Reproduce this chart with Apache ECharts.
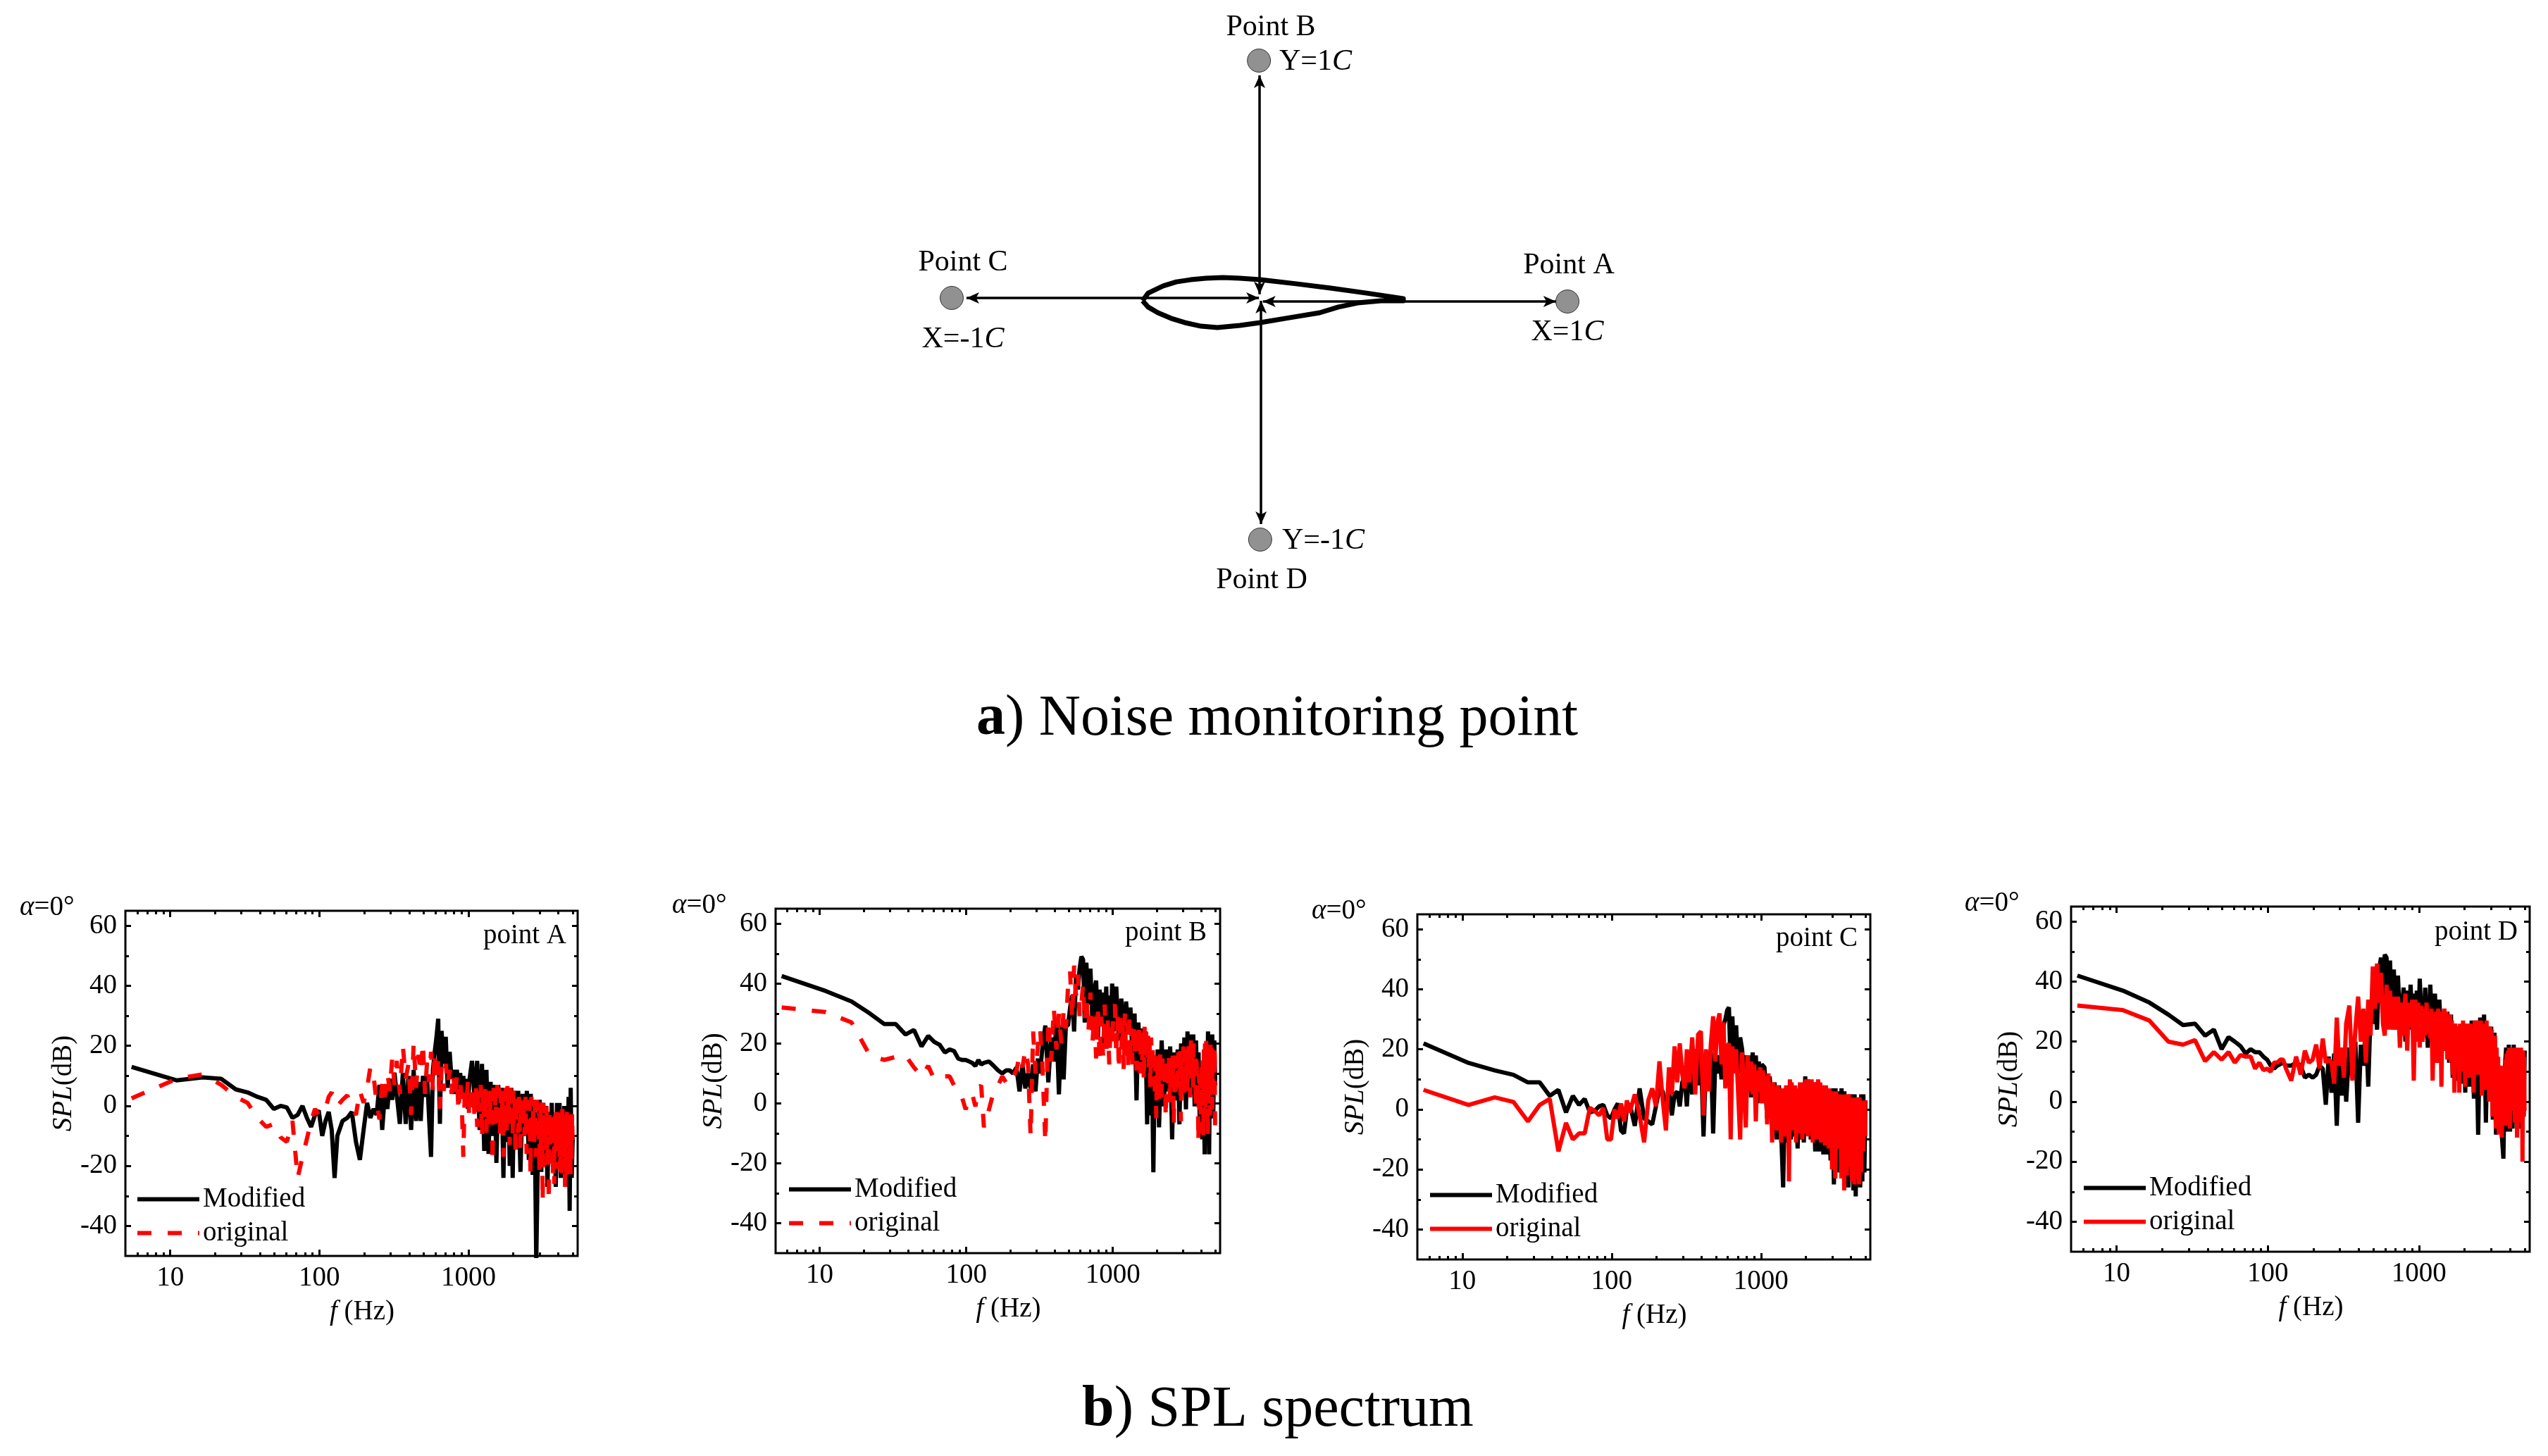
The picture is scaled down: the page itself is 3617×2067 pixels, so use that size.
<!DOCTYPE html>
<html>
<head>
<meta charset="utf-8">
<style>html,body{margin:0;padding:0;background:#fff}#c{width:3617px;height:2067px}</style>
<script src="https://cdn.jsdelivr.net/npm/echarts@6/dist/echarts.min.js"></script>
</head>
<body>
<div id="c"></div>
<script>
// ---------- frequency lists (Hz) ----------
const freq = [
5.5,11,16.5,22,27.5,33,38.5,44,49.5,55,60.5,66,71.5,77,82.5,88,93.5,99,104.5,110,115.5,121,126.5,132,
143,154,165,176,187,198,209,220,231,242,253,264,275,286,297,308,319,330,
346.5,363,379.5,396,412.5,429,445.5,462,478.5,495,511.5,528,544.5,561,577.5,594,610.5,627,643.5,660,
682,704,726,748,770,792,814,836,858,880,902,924,946,968,990,1012,
1056,1100,1144,1188,1232,1276,1320,1364,1408,1452,1496,1540,1584,1628,1672,1716,1760,1804,1848,1892,1936,1980,2024,2068,
2156,2233,2310,2387,2464,2541,2618,2695,2772,2849,2926,3003,3080,3157,3234,3311,3388,3465,3542,3619,3696,3773,3850,3927,4004,4081,4158,4235,4312,4389,4466,4543,4620,4697,4774,4851,4928,5005
];
const freqOriginal = [
5.5,11,16.5,22,27.5,33,38.5,44,49.5,55,60.5,66,71.5,77,82.5,88,93.5,99,104.5,110,115.5,121,126.5,132,
143,154,165,176,187,198,209,220,231,242,253,264,275,286,297,308,319,330,
346.5,363,379.5,396,412.5,429,445.5,462,478.5,495,511.5,528,544.5,561,577.5,594,610.5,627,643.5,660,
682,704,726,748,770,792,814,836,858,880,902,924,946,968,990,1012,
1034,1056,1078,1100,1122,1144,1166,1188,1210,1232,1254,1276,1298,1320,1342,1364,1386,1408,1430,1452,1474,1496,1518,1540,1562,1584,1606,1628,1650,1672,1694,1716,1738,1760,1782,1804,1826,1848,1870,1892,1914,1936,1958,1980,2002,2024,2046,2068,
2106.5,2145,2183.5,2222,2260.5,2299,2337.5,2376,2414.5,2453,2491.5,2530,2568.5,2607,2645.5,2684,2722.5,2761,2799.5,2838,2876.5,2915,2953.5,2992,3030.5,3069,3107.5,3146,3184.5,3223,3261.5,3300,3338.5,3377,3415.5,3454,3492.5,3531,3569.5,3608,3646.5,3685,3723.5,3762,3800.5,3839,3877.5,3916,3954.5,3993,4031.5,4070,4108.5,4147,4185.5,4224,4262.5,4301,4339.5,4378,4416.5,4455,4493.5,4532,4570.5,4609,4647.5,4686,4724.5,4763,4801.5,4840,4878.5,4917,4955.5,4994
];
// ---------- SPL values (dB) ----------
const modifiedA = [
13,8.5,9.5,9,5.5,4.5,3,2,-1,0,-0.5,-4,-3,0,-4,-7,-3,-1.5,-10,-5,-2,-8,-24,-10,
-5,-4,-2,-12,-18,-8,1,-4,-1,-3,7,-8,4,-1,9,2,11,4,
-6,11,-6,10,-8,12,-5,8,-5,10,3,10,-4,-17,12,18,23,29,-6,25,
14,23,6,18,9,12,4,12,5,11,3,10,2,9,-1,8,
15,2,15,-8,14,-15,12,-16,8,-10,7,-19,7,-8,6,-24,5,-12,6,-20,6,-24,5,-12,
5,-22,4,-10,5,-18,4,-23,2,-52,-15,2,-22,1,-19,0,-27,-2,-17,1,-22,-3,-27,1,-18,1,-24,-1,-20,0,-27,-2,-14,3,-35,6,-24,-10
];
const originalA = [
2.5,9,10.5,7,3,1,-4,-7,-6,-10.5,-12,-5,-24,-17,-11,-5,-1,-3,-3,-1,3,4.5,1,0,
2,3.5,-1,-3,5,1,6,13,10,1,-4.5,8,3,11,5,16,7,15,
4,20,9,14,-3,21,6,17,11,21,4,15,8,18,5,18,8,15,-1,13,
5,14,7,12,4,11,2,10,-2,9,1,-17,7,-1,8,-4,
7,-3,6,-5,7,-7,5,-2,7,-11,6,-4,6,-9,5,-6,6,-3,5,-19,6,-6,5,-8,7,-4,6,-10,5,-7,6,-17,5,-5,6,-9,7,-4,5,-13,6,-6,5,-10,5,-7,4,-17,
4,-9,3,-14,4,-7,3,-10,3,-16,2,-8,2,-23,3,-11,1,-12,2,-17,2,-9,1,-22,2,-14,-1,-32,1,-12,-3,-15,0,-20,-2,-32,-1,-13,-4,-12,-2,-24,-3,-26,-1,-15,-2,-21,-3,-11,-4,-18,-2,-23,-3,-25,-1,-14,-2,-15,-3,-27,-3,-24,-2,-13,-4,-14,-3,-20,-3,-23,-3,-18,-2,-12
];
const modifiedB = [
42.5,37.5,34,30,26.5,26.5,23,24.5,19,22.5,20.5,19.5,17,18,17.5,15,14.5,14.5,14,13.5,12.5,14.5,13,13.5,
14,12.5,11,10,11,11,10,12,4,13,5,10,5,13,4,15,10,18,
26,7,22,14,27,3,26,8,26,26,32,36,24,43,38,45,49,48,27,47,
33,45,27,38,41,22,38,26,37,19,39,23,36,21,40,24,
39,21,35,18,34,24,32,15,30,1,27,11,25,10,24,-7,20,-4,14,-23,16,-2,18,-8,
21,-1,18,4,19,-12,17,1,18,-7,20,4,22,-2,24,5,23,3,23,-1,21,4,17,-8,11,-12,12,-17,17,-2,24,-17,19,-5,23,-3,21,6
];
const originalB = [
32,30.5,27,16,14.5,15.5,16,12,9,12.5,8,8,9,9,6,4.5,2,-2,1,3,-1,5,6,-8,
-2,4,6,9,7,10,9,11,16,12,18,13,-11,24,10,19,25,14,
-13,28,14,32,18,30,20,31,25,39,44,28,46,36,43,29,33,40,27,36,
24,37,20,30,15,31,14,29,16,33,16,28,13,27,19,32,
33,16,29,11,31,18,27,11,30,15,27,11,28,17,25,13,27,16,25,11,26,16,27,10,25,14,24,7,26,15,25,13,24,12,21,5,22,12,19,6,16,4,15,-5,16,5,15,1,
17,2,15,8,15,-5,16,5,16,0,14,7,17,-7,15,4,16,3,17,8,18,-6,16,4,19,2,18,7,18,4,19,9,20,2,21,8,19,5,20,9,15,-2,17,5,6,-13,10,-2,8,-10,12,0,15,-11,18,4,20,-3,21,6,20,-11,19,2,17,-4,20,3,20,-2,18,5,14,3,19,-11
];
const modifiedC = [
22,15.5,13,11.5,9,9,4.5,6.5,-1,4.5,1.5,3.5,-1,-0.5,1,1.5,-2,-3,0,2,-7,-8,0,2,
-5.5,7,-3,-4,-5,1,7,6,-1,7,-2,5,6,1,9,11,1,14,
5,20,8,19,-9,17,12,19,-8,17,12,18,10,28,30,33,34,13,31,17,
28,12,24,20,10,18,13,18,4,19,6,18,2,16,3,15,
14,-3,11,-2,9,-10,8,-7,-26,7,-11,7,-10,6,-9,5,-13,6,-10,8,-11,11,-8,10,
-10,9,-14,9,-14,8,-15,7,-15,6,-17,7,-25,7,-21,6,-19,7,-18,6,-22,4,-26,5,-22,5,-27,5,-29,4,-25,3,-26,5,-24,5,-21,3
];
const originalC = [
6.5,1.5,4,2.5,-4,1.5,3.5,-14,-4.5,-10,-8,-8,0.5,-0.5,-2,0.5,-10,-10,0,-3,2,-4,3,-1,
5,-2,-11,3,7,1,16,3,-7,14,5,21,9,22,12,7,20,9,
24,5,25,26,-2,20,6,22,31,16,29,32,15,29,7,21,22,-10,21,12,
20,5,-10,19,7,-6,18,6,16,5,15,-4,13,6,14,2,
13,2,11,-5,12,1,7,-11,9,-2,5,-7,8,-3,6,-11,7,-1,5,-9,8,-4,7,-24,10,-3,9,-7,8,-2,8,-11,7,-4,7,-8,9,-3,8,-10,9,-4,9,-8,10,-2,9,-9,
10,-4,10,-11,9,-5,9,-10,10,-6,9,-11,8,-5,7,-12,8,-7,6,-13,7,-8,5,-20,6,-9,5,-23,6,-6,3,-13,5,-10,5,-23,4,-14,4,-27,5,-15,4,-22,5,-10,5,-19,4,-16,4,-24,4,-12,3,-25,4,-17,4,-23,3,-13,4,-25,4,-18,3,-21,3,-11,3,-14,3,-8,3,-9
];
const modifiedD = [
42,37,33,29,25.5,26,22,24,17.5,21.5,20,18.5,16,17.5,16.5,16.5,15,14,12,11,12,12.5,13,12,
12,13,12,8,9,8,9,12,11,-1,15,3,16,-8,16,2,17,0,
18,8,20,-7,19,12,26,5,30,26,34,24,44,48,35,49,48,29,47,30,
44,25,42,27,31,38,20,37,24,39,28,36,24,37,22,41,
20,38,18,39,21,36,13,34,20,30,17,30,13,29,8,26,7,25,7,23,6,25,3,22,
5,27,1,27,-11,28,4,29,-7,25,5,25,-6,23,-11,15,-9,3,-12,-19,11,18,-10,19,-10,18,-9,19,-3,15,-5,17,-9,10,-1,17,-5,17
];
const originalD = [
32,30.5,27,20,19,20.5,13.5,16.5,14,16.5,13,15.5,15,15,11,13,10.5,11,10,13,13,14,14,11,
7,15,9,17,13,14,19,11,21,13,14,13,6,28,12,18,8,26,
32,7,24,35,20,31,13,34,22,45,31,46,33,43,26,22,39,24,37,24,
35,24,35,18,33,22,36,17,33,25,34,7,34,20,33,18,
32,20,31,22,33,23,30,21,31,7,29,20,30,13,31,22,30,5,28,18,31,17,30,14,28,21,29,13,27,9,26,3,26,15,24,12,25,3,26,15,25,10,27,14,25,5,26,12,
25,8,26,14,25,3,27,11,26,9,27,15,27,2,26,10,26,4,27,12,25,0,25,9,24,-5,22,5,22,-9,18,2,15,-11,12,-4,7,-12,10,-3,12,-8,14,0,16,-8,17,2,18,-9,18,3,18,-3,17,5,17,-7,18,4,18,-12,16,2,16,-7,18,0,18,-3,16,-20,17,-5,15,-3
];
// ---------- tick lists ----------
const xMajorTicks = [10,100,1000];
const xMinorTicks = [6,7,8,9,20,30,40,50,60,70,80,90,200,300,400,500,600,700,800,900,2000,3000,4000,5000];
const yMajorTicks = [-40,-20,0,20,40,60];
const yMinorTicks = [-30,-10,10,30,50];
// ---------- schematic, coordinates in chord lengths C ----------
const monitorPoints = [[1,-0.006],[-0.002,1],[-1,0.009],[0.002,-1]];
const airfoil = [[-0.38,-0.003],[-0.362,0.029],[-0.313,0.059],[-0.27,0.076],[-0.224,0.085],[-0.174,0.091],[-0.119,0.094],[-0.064,0.091],[0.002,0.085],[0.119,0.068],[0.231,0.05],[0.348,0.029],[0.467,0.006],[0.467,-0.003],[0.394,-0.003],[0.318,-0.012],[0.256,-0.029],[0.195,-0.053],[0.096,-0.074],[0.002,-0.094],[-0.064,-0.106],[-0.137,-0.115],[-0.19,-0.109],[-0.243,-0.094],[-0.288,-0.076],[-0.33,-0.053],[-0.362,-0.029],[-0.38,-0.003]];
const arrowSegments = [
 [[-0.952,0.009],[-0.002,0.009]],
 [[0.011,-0.006],[0.963,-0.006]],
 [[0,0.938],[0,0.024]],
 [[0.005,-0.003],[0.005,-0.935]]
];

const SERIF = '"Liberation Serif"';
const panels = [
 {key:'A',mod:modifiedA,ori:originalA,dash:true, left:178, right:820, top:1293,bottom:1783,legX:192, legY:1702,alphaX:28, alphaY:1289,ptX:804, ptY:1329},
 {key:'B',mod:modifiedB,ori:originalB,dash:true, left:1101,right:1732,top:1290,bottom:1779,legX:1117,legY:1688,alphaX:954,alphaY:1286,ptX:1713,ptY:1325},
 {key:'C',mod:modifiedC,ori:originalC,dash:false,left:2012,right:2655,top:1298,bottom:1788,legX:2027,legY:1696,alphaX:1862,alphaY:1294,ptX:2637,ptY:1333},
 {key:'D',mod:modifiedD,ori:originalD,dash:false,left:2940,right:3591,top:1287,bottom:1777,legX:2955,legY:1686,alphaX:2789,alphaY:1283,ptX:3574,ptY:1324}
];
const zip = (xs,ys) => ys.map((y,i)=>[xs[i],y]);

const grid=[],xAxis=[],yAxis=[],series=[],legend=[],texts=[];
const FS=39, LW=6;
function txt(x,y,text,align,size,rich){
  texts.push({type:'text',x:x,y:y,z:50,style:{text:text,rich:rich||{},align:align,verticalAlign:'middle',fill:'#000',fontFamily:SERIF,fontSize:size}});
}
const rn=s=>({fontFamily:SERIF,fontSize:s,fill:'#000',color:'#000'});
const ri=s=>({fontFamily:SERIF,fontSize:s,fontStyle:'italic',fill:'#000',color:'#000'});

panels.forEach((p,g)=>{
  grid.push({left:p.left,top:p.top,width:p.right-p.left,height:p.bottom-p.top,show:true,borderColor:'#000',borderWidth:3,backgroundColor:'transparent'});
  const xBase={type:'log',gridIndex:g,min:5,max:5400,splitLine:{show:false},axisLine:{show:false,onZero:false}};
  const yBase={type:'value',gridIndex:g,min:-50,max:65,splitLine:{show:false},axisLine:{show:false,onZero:false}};
  const tick=(vals,len)=>({show:true,inside:true,length:len,customValues:vals,lineStyle:{color:'#000',width:3}});
  const off={show:false};
  const xMain=xAxis.length;
  xAxis.push(Object.assign({},xBase,{position:'bottom',axisTick:tick(xMajorTicks,9),
    axisLabel:{show:true,customValues:xMajorTicks,margin:12,fontFamily:SERIF,fontSize:FS,color:'#000',formatter:v=>String(Math.round(v))},
    name:'{i|f }{n|(Hz)}',nameLocation:'middle',nameGap:60,
    nameTextStyle:{padding:[0,0,0,30],rich:{i:ri(FS),n:rn(FS)}}}));
  xAxis.push(Object.assign({},xBase,{position:'bottom',axisTick:tick(xMinorTicks,5),axisLabel:off}));
  xAxis.push(Object.assign({},xBase,{position:'top',axisTick:tick(xMajorTicks,9),axisLabel:off}));
  xAxis.push(Object.assign({},xBase,{position:'top',axisTick:tick(xMinorTicks,5),axisLabel:off}));
  const yMain=yAxis.length;
  yAxis.push(Object.assign({},yBase,{position:'left',axisTick:tick(yMajorTicks,8),
    axisLabel:{show:true,customValues:yMajorTicks,margin:12,fontFamily:SERIF,fontSize:FS,color:'#000'},
    name:'{i|SPL}{n|(dB)}',nameLocation:'middle',nameGap:68,nameRotate:90,
    nameTextStyle:{rich:{i:ri(FS),n:rn(FS)}}}));
  yAxis.push(Object.assign({},yBase,{position:'left',axisTick:tick(yMinorTicks,5),axisLabel:off}));
  yAxis.push(Object.assign({},yBase,{position:'right',axisTick:tick(yMajorTicks,8),axisLabel:off}));
  yAxis.push(Object.assign({},yBase,{position:'right',axisTick:tick(yMinorTicks,5),axisLabel:off}));
  const nM='Modified point '+p.key, nO='original point '+p.key;
  const redStyle={color:'#ff0000',width:LW,join:'bevel',type:p.dash?[20,23]:'solid'};
  const blackStyle={color:'#000',width:LW,join:'bevel',type:'solid'};
  series.push({name:nM,type:'line',xAxisIndex:xMain,yAxisIndex:yMain,data:zip(freq,p.mod),showSymbol:false,symbol:'none',
    lineStyle:blackStyle,itemStyle:{color:'#000'},z:2});
  series.push({name:nO,type:'line',xAxisIndex:xMain,yAxisIndex:yMain,data:zip(freqOriginal,p.ori),showSymbol:false,symbol:'none',
    lineStyle:redStyle,itemStyle:{color:'#ff0000'},z:3});
  legend.push({show:true,orient:'vertical',left:p.legX,top:p.legY-19,padding:0,itemWidth:88,itemHeight:38,itemGap:9,
    data:[{name:nM,lineStyle:blackStyle,itemStyle:{opacity:0}},{name:nO,lineStyle:redStyle,itemStyle:{opacity:0}}],
    selectedMode:false,formatter:n=>n.split(' ')[0],textStyle:{fontFamily:SERIF,fontSize:FS,color:'#000'}});
  txt(p.alphaX,p.alphaY,'{i|α}{n|=0°}','left',FS,{i:ri(FS),n:rn(FS)});
  txt(p.ptX,p.ptY,'point '+p.key,'right',FS);
});

// schematic grid: x and y run from -1C to 1C between the monitoring points
const sg=grid.length;
grid.push({left:1351,top:86,width:874,height:680,show:false});
xAxis.push({type:'value',gridIndex:sg,min:-1,max:1,show:false});
yAxis.push({type:'value',gridIndex:sg,min:-1,max:1,show:false});
series.push({name:'Airfoil',type:'line',xAxisIndex:xAxis.length-1,yAxisIndex:yAxis.length-1,data:airfoil,showSymbol:false,symbol:'none',clip:false,
  lineStyle:{color:'#000',width:7,join:'round'},
  markLine:{silent:true,animation:false,symbol:['arrow','arrow'],symbolSize:[12,18],label:{show:false},
    lineStyle:{color:'#000',type:'solid',width:3.5},
    data:arrowSegments.map(s=>[{coord:s[0]},{coord:s[1]}])}});
series.push({name:'Monitoring points',type:'scatter',xAxisIndex:xAxis.length-1,yAxisIndex:yAxis.length-1,data:monitorPoints,symbolSize:33,clip:false,
  itemStyle:{color:'#757575',borderColor:'#111',borderWidth:1}});

const S=42, rs={i:ri(S),n:rn(S)};
txt(1804,39,'Point B','center',S);
txt(1816,88,'{n|Y=1}{i|C}','left',S,rs);
txt(1367,373,'Point C','center',S);
txt(1367,482,'{n|X=-1}{i|C}','center',S,rs);
txt(2227,377,'Point A','center',S);
txt(2225,472,'{n|X=1}{i|C}','center',S,rs);
txt(1820,768,'{n|Y=-1}{i|C}','left',S,rs);
txt(1791,824,'Point D','center',S);
const C=82, rc={b:{fontFamily:SERIF,fontSize:C,fontWeight:'bold',fill:'#000'},n:rn(C)};
txt(1813,1021,'{b|a}{n|) Noise monitoring point}','center',C,rc);
txt(1814,2002,'{b|b}{n|) SPL spectrum}','center',C,rc);

const chart=echarts.init(document.getElementById('c'));
chart.setOption({animation:false,backgroundColor:'#fff',grid,xAxis,yAxis,series,legend,graphic:{elements:texts}});
</script>
</body>
</html>
